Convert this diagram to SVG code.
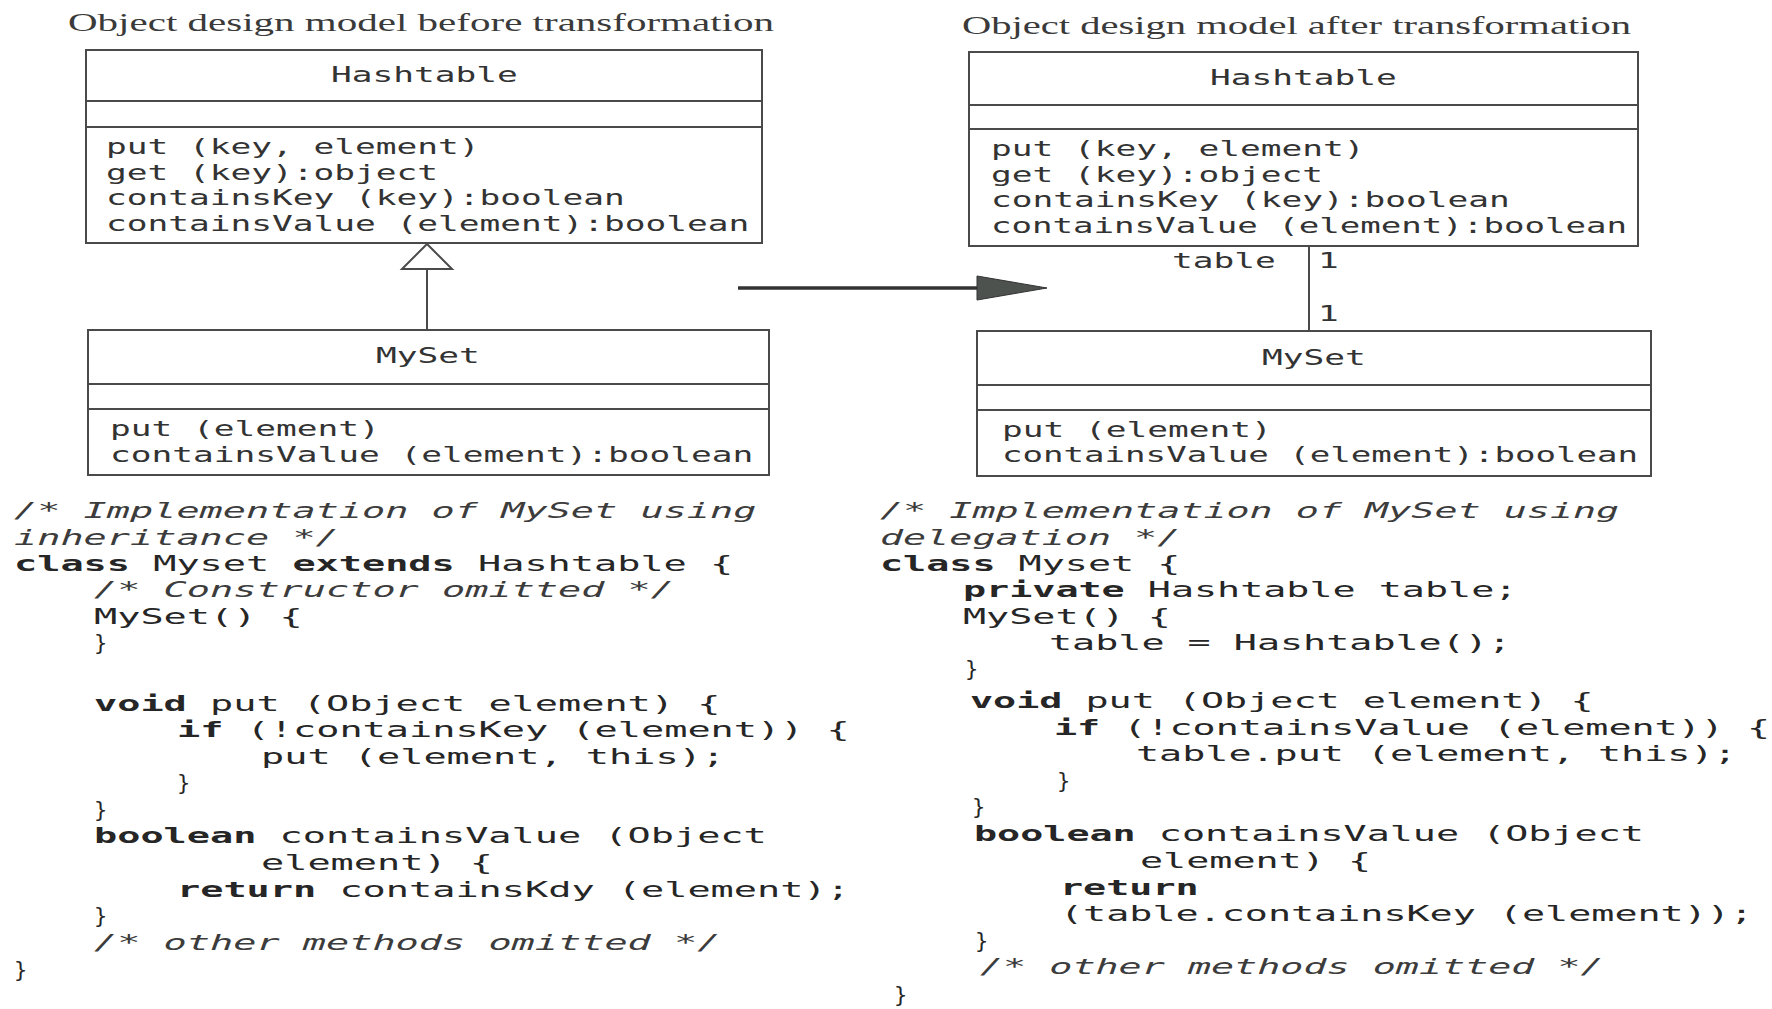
<svg xmlns="http://www.w3.org/2000/svg" width="1772" height="1009" viewBox="0 0 1772 1009">
<style>
.title{font-family:"Liberation Serif","Times New Roman",serif;font-size:26px;fill:#3a3a3a}
.uml{font-family:"DejaVu Sans Mono","Liberation Mono",monospace;font-size:21px;fill:#333}
.code{font-family:"DejaVu Sans Mono","Liberation Mono",monospace;font-size:22px;fill:#262626}
.cm{font-style:italic;fill:#3c3c3c}
.kw{font-weight:bold}
.box{fill:#fff;stroke:#4a4a4a;stroke-width:2}
.div{stroke:#4a4a4a;stroke-width:2}
.con{stroke:#4a4a4a;stroke-width:2;fill:none}
</style>
<rect x="0" y="0" width="1772" height="1009" fill="#fff"/>

<text class="title" x="68" y="31" textLength="706" lengthAdjust="spacingAndGlyphs">Object design model before transformation</text>
<text class="title" x="962" y="34" textLength="669" lengthAdjust="spacingAndGlyphs">Object design model after transformation</text>

<g id="hashtable-before">
<rect class="box" x="86" y="50" width="676" height="193"/>
<line class="div" x1="86" y1="101" x2="762" y2="101"/>
<line class="div" x1="86" y1="127" x2="762" y2="127"/>
<text class="uml" x="331" y="82" textLength="186.75" lengthAdjust="spacingAndGlyphs">Hashtable</text>
<text class="uml" x="106" y="154" textLength="373.5" lengthAdjust="spacingAndGlyphs">put (key, element)</text>
<text class="uml" x="106" y="180" textLength="332" lengthAdjust="spacingAndGlyphs">get (key):object</text>
<text class="uml" x="106" y="205" textLength="518.75" lengthAdjust="spacingAndGlyphs">containsKey (key):boolean</text>
<text class="uml" x="106" y="231" textLength="643.25" lengthAdjust="spacingAndGlyphs">containsValue (element):boolean</text>
</g>

<g id="myset-before">
<rect class="box" x="88" y="330" width="681" height="145"/>
<line class="div" x1="88" y1="384" x2="769" y2="384"/>
<line class="div" x1="88" y1="409" x2="769" y2="409"/>
<text class="uml" x="376" y="363" textLength="103.75" lengthAdjust="spacingAndGlyphs">MySet</text>
<text class="uml" x="110" y="436" textLength="269.75" lengthAdjust="spacingAndGlyphs">put (element)</text>
<text class="uml" x="110" y="462" textLength="643.25" lengthAdjust="spacingAndGlyphs">containsValue (element):boolean</text>
</g>

<g id="hashtable-after">
<rect class="box" x="969" y="52" width="669" height="194"/>
<line class="div" x1="969" y1="105" x2="1638" y2="105"/>
<line class="div" x1="969" y1="129" x2="1638" y2="129"/>
<text class="uml" x="1210" y="85" textLength="186.75" lengthAdjust="spacingAndGlyphs">Hashtable</text>
<text class="uml" x="991" y="156" textLength="373.5" lengthAdjust="spacingAndGlyphs">put (key, element)</text>
<text class="uml" x="991" y="182" textLength="332" lengthAdjust="spacingAndGlyphs">get (key):object</text>
<text class="uml" x="991" y="207" textLength="518.75" lengthAdjust="spacingAndGlyphs">containsKey (key):boolean</text>
<text class="uml" x="991" y="233" textLength="636" lengthAdjust="spacingAndGlyphs">containsValue (element):boolean</text>
</g>

<g id="myset-after">
<rect class="box" x="977" y="331" width="674" height="145"/>
<line class="div" x1="977" y1="385" x2="1651" y2="385"/>
<line class="div" x1="977" y1="410" x2="1651" y2="410"/>
<text class="uml" x="1262" y="365" textLength="103.75" lengthAdjust="spacingAndGlyphs">MySet</text>
<text class="uml" x="1002" y="437" textLength="269.75" lengthAdjust="spacingAndGlyphs">put (element)</text>
<text class="uml" x="1002" y="462" textLength="636" lengthAdjust="spacingAndGlyphs">containsValue (element):boolean</text>
</g>

<g id="connectors">
<line class="con" x1="427" y1="269" x2="427" y2="330"/>
<polygon class="con" points="427,244 402,269 452,269"/>
<line class="con" x1="1309" y1="246" x2="1309" y2="331"/>
<text class="uml" x="1172" y="268" textLength="103.75" lengthAdjust="spacingAndGlyphs">table</text>
<text class="uml" x="1318" y="268" textLength="20.75" lengthAdjust="spacingAndGlyphs">1</text>
<text class="uml" x="1318" y="321" textLength="20.75" lengthAdjust="spacingAndGlyphs">1</text>
<line x1="738" y1="288" x2="980" y2="288" stroke="#333" stroke-width="3.5"/>
<polygon points="977,276 1047,288 977,300" fill="#4d524f" stroke="#333" stroke-width="1"/>
</g>

<g id="code-inheritance" class="code">
<text class="cm" x="14" y="518" textLength="742.4" lengthAdjust="spacingAndGlyphs">/* Implementation of MySet using</text>
<text class="cm" x="14" y="545" textLength="324.8" lengthAdjust="spacingAndGlyphs">inheritance */</text>
<text x="14" y="571" textLength="719.2" lengthAdjust="spacingAndGlyphs"><tspan class="kw">class</tspan> Myset <tspan class="kw">extends</tspan> Hashtable {</text>
<text class="cm" x="94" y="597" textLength="580" lengthAdjust="spacingAndGlyphs">/* Constructor omitted */</text>
<text x="94" y="624" textLength="208.8" lengthAdjust="spacingAndGlyphs">MySet() {</text>
<text x="94" y="650">}</text>
<text x="94" y="711" textLength="626.4" lengthAdjust="spacingAndGlyphs"><tspan class="kw">void</tspan> put (Object element) {</text>
<text x="177" y="737" textLength="672.8" lengthAdjust="spacingAndGlyphs"><tspan class="kw">if</tspan> (!containsKey (element)) {</text>
<text x="261" y="764" textLength="464" lengthAdjust="spacingAndGlyphs">put (element, this);</text>
<text x="177" y="790">}</text>
<text x="94" y="817">}</text>
<text x="94" y="843" textLength="672.8" lengthAdjust="spacingAndGlyphs"><tspan class="kw">boolean</tspan> containsValue (Object</text>
<text x="261" y="870" textLength="232" lengthAdjust="spacingAndGlyphs">element) {</text>
<text x="177" y="897" textLength="672.8" lengthAdjust="spacingAndGlyphs"><tspan class="kw">return</tspan> containsKdy (element);</text>
<text x="94" y="923">}</text>
<text class="cm" x="94" y="950" textLength="626.4" lengthAdjust="spacingAndGlyphs">/* other methods omitted */</text>
<text x="14" y="977">}</text>
</g>

<g id="code-delegation" class="code">
<text class="cm" x="880" y="518" textLength="739.2" lengthAdjust="spacingAndGlyphs">/* Implementation of MySet using</text>
<text class="cm" x="880" y="545" textLength="300.3" lengthAdjust="spacingAndGlyphs">delegation */</text>
<text x="880" y="571" textLength="300.3" lengthAdjust="spacingAndGlyphs"><tspan class="kw">class</tspan> Myset {</text>
<text x="963" y="597" textLength="554.4" lengthAdjust="spacingAndGlyphs"><tspan class="kw">private</tspan> Hashtable table;</text>
<text x="963" y="624" textLength="207.9" lengthAdjust="spacingAndGlyphs">MySet() {</text>
<text x="1049" y="650" textLength="462" lengthAdjust="spacingAndGlyphs">table = Hashtable();</text>
<text x="965" y="676">}</text>
<text x="970" y="708" textLength="623.7" lengthAdjust="spacingAndGlyphs"><tspan class="kw">void</tspan> put (Object element) {</text>
<text x="1054" y="735" textLength="716.1" lengthAdjust="spacingAndGlyphs"><tspan class="kw">if</tspan> (!containsValue (element)) {</text>
<text x="1136" y="761" textLength="600.6" lengthAdjust="spacingAndGlyphs">table.put (element, this);</text>
<text x="1057" y="788">}</text>
<text x="972" y="814">}</text>
<text x="974" y="841" textLength="669.9" lengthAdjust="spacingAndGlyphs"><tspan class="kw">boolean</tspan> containsValue (Object</text>
<text x="1140" y="868" textLength="231" lengthAdjust="spacingAndGlyphs">element) {</text>
<text class="kw" x="1060" y="895" textLength="138.6" lengthAdjust="spacingAndGlyphs">return</text>
<text x="1060" y="921" textLength="693" lengthAdjust="spacingAndGlyphs">(table.containsKey (element));</text>
<text x="975" y="948">}</text>
<text class="cm" x="980" y="974" textLength="623.7" lengthAdjust="spacingAndGlyphs">/* other methods omitted */</text>
<text x="894" y="1002">}</text>
</g>
</svg>
